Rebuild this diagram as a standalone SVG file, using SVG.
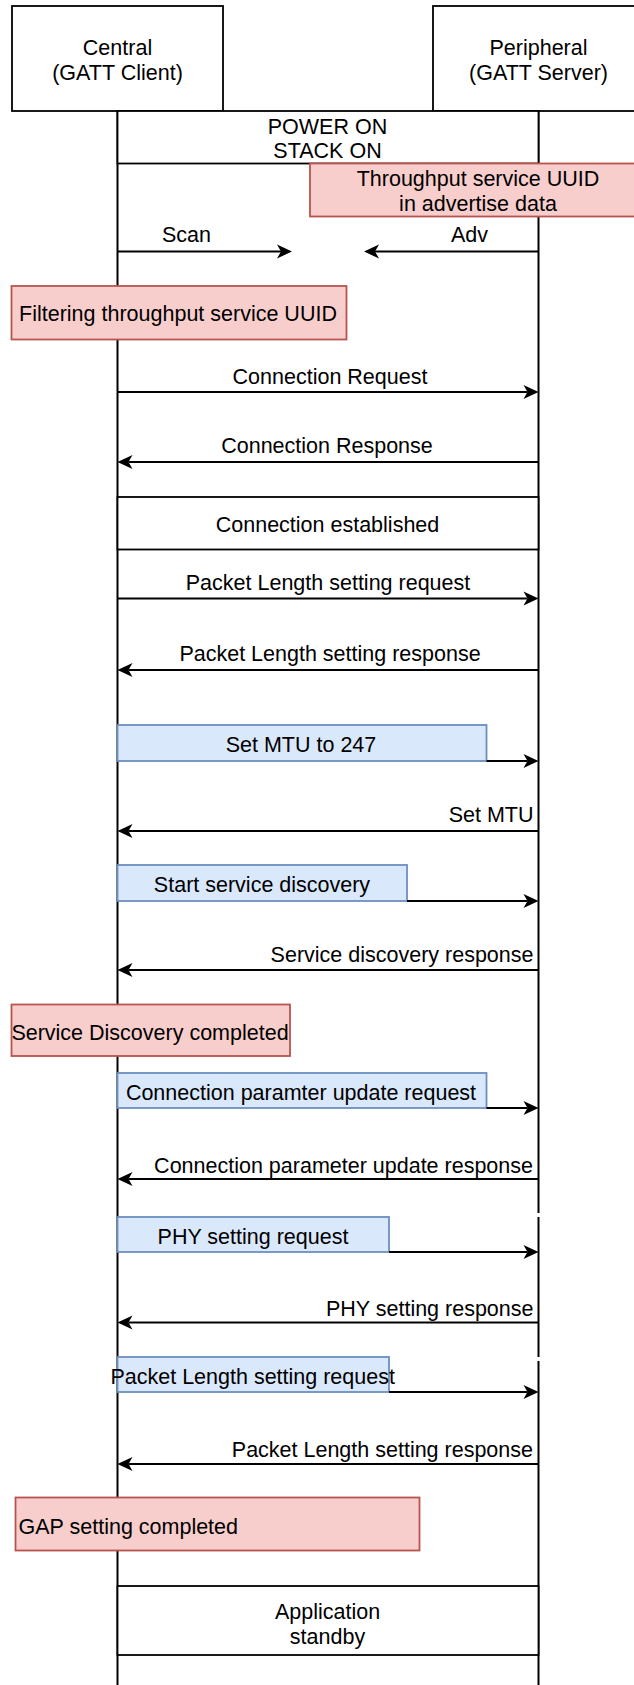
<svg xmlns="http://www.w3.org/2000/svg" width="634" height="1685" viewBox="0 0 634 1685">
  <style>
    text { font-family: "Liberation Sans", Arial, sans-serif; font-size: 21.5px; fill: #000; }
    .mid { text-anchor: middle; }
    .end { text-anchor: end; }
    .box { fill: #fff; stroke: #000; stroke-width: 1.8; }
    .red { fill: #f8cecc; stroke: #b85450; stroke-width: 1.8; }
    .blue { fill: #dae8fc; stroke: #6c8ebf; stroke-width: 1.8; }
    .life { stroke: #000; stroke-width: 2; fill: none; }
    .msg { stroke: #000; stroke-width: 2; fill: none; marker-end: url(#arrow); }
  </style>
  <defs>
    <marker id="arrow" viewBox="-16 -8 17 16" markerWidth="17" markerHeight="16" refX="-11" refY="0" orient="auto" markerUnits="userSpaceOnUse">
      <path d="M0,0 L-15,-7 L-11,0 L-15,7 Z" fill="#000"/>
    </marker>
  </defs>

  <!-- lifelines -->
  <g id="lifelines">
    <line class="life" x1="117.5" y1="111" x2="117.5" y2="1685"/>
    <line class="life" x1="538.5" y1="111" x2="538.5" y2="1213"/>
    <line class="life" x1="538.5" y1="1217" x2="538.5" y2="1357"/>
    <line class="life" x1="538.5" y1="1361" x2="538.5" y2="1685"/>
  </g>

  <!-- participants -->
  <g id="central">
    <rect class="box" x="12" y="6" width="211" height="105"/>
    <text class="mid" x="117.5" y="54.5">Central</text>
    <text class="mid" x="117.5" y="79.5">(GATT Client)</text>
  </g>
  <g id="peripheral">
    <rect class="box" x="433" y="6" width="211" height="105"/>
    <text class="mid" x="538.5" y="54.5">Peripheral</text>
    <text class="mid" x="538.5" y="79.5">(GATT Server)</text>
  </g>

  <!-- phase bars spanning both lifelines -->
  <g id="power-on">
    <rect class="box" x="117.5" y="111" width="421" height="52.5"/>
    <text class="mid" x="327.5" y="133.5">POWER ON</text>
    <text class="mid" x="327.5" y="158">STACK ON</text>
  </g>
  <g id="adv-data">
    <rect class="red" x="310" y="163.5" width="336" height="53"/>
    <text class="mid" x="478" y="186">Throughput service UUID</text>
    <text class="mid" x="478" y="211">in advertise data</text>
  </g>
  <g id="filtering">
    <rect class="red" x="11.5" y="286" width="335" height="53.5"/>
    <text class="mid" x="178" y="321">Filtering throughput service UUID</text>
  </g>
  <g id="connection-established">
    <rect class="box" x="117.5" y="497" width="421" height="52.5"/>
    <text class="mid" x="327.5" y="531.5">Connection established</text>
  </g>
  <g id="set-mtu-request">
    <rect class="blue" x="117.5" y="725" width="369" height="36"/>
    <text class="mid" x="301" y="752">Set MTU to 247</text>
  </g>
  <g id="start-discovery">
    <rect class="blue" x="117.5" y="865" width="289.5" height="36"/>
    <text class="mid" x="262" y="892">Start service discovery</text>
  </g>
  <g id="discovery-completed">
    <rect class="red" x="11.5" y="1004.5" width="278.5" height="51.5"/>
    <text class="mid" x="150" y="1040">Service Discovery completed</text>
  </g>
  <g id="conn-param-request">
    <rect class="blue" x="117.5" y="1073" width="369" height="35"/>
    <text class="mid" x="301" y="1100">Connection paramter update request</text>
  </g>
  <g id="phy-request">
    <rect class="blue" x="117.5" y="1217" width="271.5" height="35"/>
    <text class="mid" x="253" y="1243.5">PHY setting request</text>
  </g>
  <g id="packet-length-request-2">
    <rect class="blue" x="117.5" y="1357" width="271.5" height="35"/>
    <text class="mid" x="252.7" y="1383.5">Packet Length setting request</text>
  </g>
  <g id="gap-completed">
    <rect class="red" x="15.5" y="1497.5" width="404" height="53"/>
    <text x="18.5" y="1534">GAP setting completed</text>
  </g>
  <g id="app-standby">
    <rect class="box" x="117.5" y="1586" width="421" height="69"/>
    <text class="mid" x="327.5" y="1618.5">Application</text>
    <text class="mid" x="327.5" y="1644">standby</text>
  </g>

  <!-- messages -->
  <g id="connectors">
    <line class="msg" x1="117.5" y1="251.5" x2="281" y2="251.5"/>
    <line class="msg" x1="538.5" y1="251.5" x2="375" y2="251.5"/>
    <line class="msg" x1="117.5" y1="392" x2="527.5" y2="392"/>
    <line class="msg" x1="538.5" y1="462" x2="128.5" y2="462"/>
    <line class="msg" x1="117.5" y1="598.5" x2="527.5" y2="598.5"/>
    <line class="msg" x1="538.5" y1="670" x2="128.5" y2="670"/>
    <line class="msg" x1="486.5" y1="761" x2="527.5" y2="761"/>
    <line class="msg" x1="538.5" y1="831" x2="128.5" y2="831"/>
    <line class="msg" x1="407" y1="901" x2="527.5" y2="901"/>
    <line class="msg" x1="538.5" y1="970" x2="128.5" y2="970"/>
    <line class="msg" x1="486.5" y1="1108" x2="527.5" y2="1108"/>
    <line class="msg" x1="538.5" y1="1179" x2="128.5" y2="1179"/>
    <line class="msg" x1="389" y1="1252" x2="527.5" y2="1252"/>
    <line class="msg" x1="538.5" y1="1322.5" x2="128.5" y2="1322.5"/>
    <line class="msg" x1="389" y1="1392" x2="527.5" y2="1392"/>
    <line class="msg" x1="538.5" y1="1464" x2="128.5" y2="1464"/>
  </g>

  <!-- message labels -->
  <g id="labels">
    <text class="mid" x="186.5" y="242">Scan</text>
    <text class="mid" x="469.5" y="242">Adv</text>
    <text class="mid" x="330" y="383.5">Connection Request</text>
    <text class="mid" x="327" y="453">Connection Response</text>
    <text class="mid" x="328" y="589.5">Packet Length setting request</text>
    <text class="mid" x="330" y="661">Packet Length setting response</text>
    <text class="end" x="533.5" y="822">Set MTU</text>
    <text class="end" x="533.5" y="962">Service discovery response</text>
    <text class="end" x="533" y="1173">Connection parameter update response</text>
    <text class="end" x="533.5" y="1315.5">PHY setting response</text>
    <text class="end" x="533" y="1457">Packet Length setting response</text>
  </g>
</svg>
